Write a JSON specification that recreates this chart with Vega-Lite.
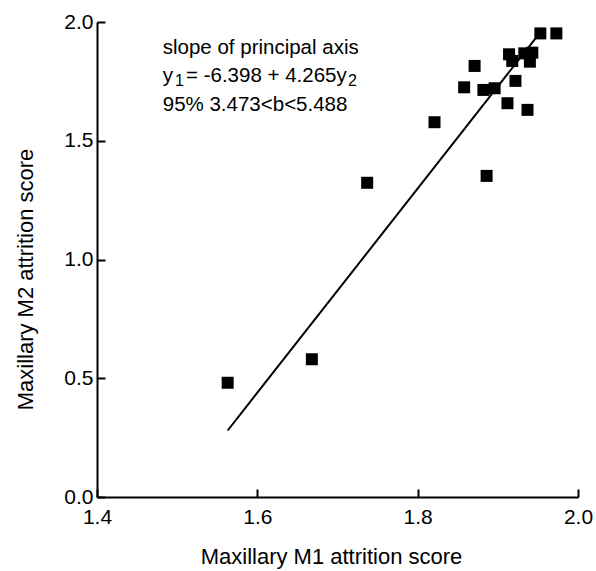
{
  "$schema": "https://vega.github.io/schema/vega-lite/v6.json",
  "width": 481,
  "height": 475,
  "autosize": {"type": "none"},
  "padding": {"left": 97, "top": 22, "right": 18, "bottom": 74},
  "background": "white",
  "config": {
    "view": {"stroke": null},
    "font": "Liberation Sans",
    "axis": {
      "grid": false,
      "domainColor": "black",
      "domainWidth": 2,
      "tickColor": "black",
      "tickWidth": 2,
      "tickSize": -8,
      "labelFlush": false,
      "labelOverlap": false,
      "labelColor": "black",
      "titleColor": "black",
      "labelFont": "Liberation Sans",
      "titleFont": "Liberation Sans",
      "labelFontSize": 21,
      "titleFontSize": 22,
      "titleFontWeight": "normal"
    }
  },
  "layer": [
    {
      "data": {"values": [
        {"m1": 1.953, "m2": 1.952},
        {"m1": 1.973, "m2": 1.952},
        {"m1": 1.914, "m2": 1.864},
        {"m1": 1.933, "m2": 1.868},
        {"m1": 1.943, "m2": 1.871},
        {"m1": 1.871, "m2": 1.815},
        {"m1": 1.918, "m2": 1.836},
        {"m1": 1.940, "m2": 1.833},
        {"m1": 1.858, "m2": 1.725},
        {"m1": 1.882, "m2": 1.714},
        {"m1": 1.896, "m2": 1.721},
        {"m1": 1.922, "m2": 1.752},
        {"m1": 1.912, "m2": 1.658},
        {"m1": 1.937, "m2": 1.630},
        {"m1": 1.821, "m2": 1.578},
        {"m1": 1.886, "m2": 1.352},
        {"m1": 1.737, "m2": 1.323},
        {"m1": 1.668, "m2": 0.580},
        {"m1": 1.563, "m2": 0.481}
      ]},
      "mark": {"type": "point", "shape": "square", "filled": true, "color": "black", "opacity": 1, "size": 144},
      "encoding": {
        "x": {
          "field": "m1", "type": "quantitative",
          "scale": {"domain": [1.4, 2.0], "nice": false, "zero": false},
          "axis": {
            "title": "Maxillary M1 attrition score",
            "values": [1.4, 1.6, 1.8, 2.0],
            "format": ".1f",
            "labelPadding": 17,
            "titleX": 234,
            "titleY": 66,
            "titleBaseline": "alphabetic"
          }
        },
        "y": {
          "field": "m2", "type": "quantitative",
          "scale": {"domain": [0, 2.0], "nice": false},
          "axis": {
            "title": "Maxillary M2 attrition score",
            "values": [0, 0.5, 1.0, 1.5, 2.0],
            "format": ".1f",
            "labelPadding": 12,
            "titleX": -65,
            "titleY": 257,
            "titleAngle": -90,
            "titleAlign": "center",
            "titleBaseline": "alphabetic"
          }
        }
      }
    },
    {
      "data": {"values": [
        {"m1": 1.563, "m2": 0.28},
        {"m1": 1.948, "m2": 1.935}
      ]},
      "mark": {"type": "line", "color": "black", "strokeWidth": 2},
      "encoding": {
        "x": {"field": "m1", "type": "quantitative"},
        "y": {"field": "m2", "type": "quantitative"}
      }
    },
    {
      "data": {"values": [
        {"label": "slope of principal axis", "tx": 1.482, "ty": 1.865},
        {"label": "y", "tx": 1.482, "ty": 1.747},
        {"label": "= -6.398 + 4.265y", "tx": 1.5110, "ty": 1.747},
        {"label": "95% 3.473<b<5.488", "tx": 1.482, "ty": 1.6253}
      ]},
      "mark": {"type": "text", "align": "left", "baseline": "alphabetic", "fontSize": 20.5, "color": "black", "font": "Liberation Sans"},
      "encoding": {
        "x": {"field": "tx", "type": "quantitative"},
        "y": {"field": "ty", "type": "quantitative"},
        "text": {"field": "label"}
      }
    },
    {
      "data": {"values": [
        {"label": "1", "tx": 1.4973, "ty": 1.7326},
        {"label": "2", "tx": 1.7131, "ty": 1.7326}
      ]},
      "mark": {"type": "text", "align": "left", "baseline": "alphabetic", "fontSize": 16, "color": "black", "font": "Liberation Sans"},
      "encoding": {
        "x": {"field": "tx", "type": "quantitative"},
        "y": {"field": "ty", "type": "quantitative"},
        "text": {"field": "label"}
      }
    }
  ]
}
